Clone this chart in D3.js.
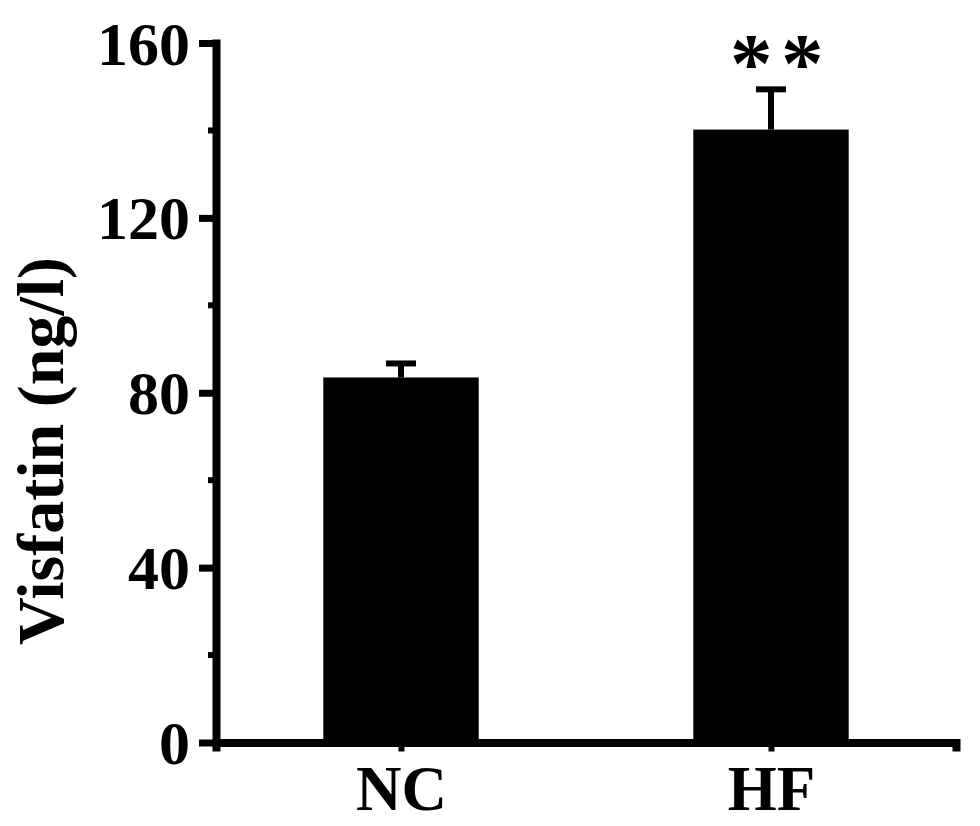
<!DOCTYPE html>
<html>
<head>
<meta charset="utf-8">
<script src="https://cdn.jsdelivr.net/npm/d3@7"></script>
<style>
  body { margin: 0; background: #fff; }
  text { font-family: "Liberation Serif", "Times New Roman", serif; font-weight: bold; fill: #000; }
</style>
</head>
<body>
<div id="chart"></div>
<script>
// data
var groups = ["NC", "HF"];
var means = [83.5, 140.2];
var errors = [3.2, 9.2];
var yTicks = [0, 40, 80, 120, 160];
var yMinorTicks = [20, 60, 100, 140];
var stars = ["", "**"];

var width = 980;
var height = 826;

var svg = d3.select("#chart").append("svg")
    .attr("width", width)
    .attr("height", height);

// scales
var x = d3.scalePoint()
    .domain(groups)
    .range([216, 956])
    .padding(0.5);

var y = d3.scaleLinear()
    .domain([0, 160])
    .range([742.5, 43]);

var barWidth = x.step() * 0.42;

// bars
svg.selectAll(".bar")
    .data(groups)
    .enter()
    .append("rect")
    .attr("class", "bar")
    .attr("x", d => x(d) - barWidth / 2)
    .attr("y", (d, i) => y(means[i]))
    .attr("width", barWidth)
    .attr("height", (d, i) => y(0) - y(means[i]))
    .attr("fill", "#000");

// error bars (upper only)
svg.selectAll(".stem")
    .data(groups)
    .enter()
    .append("line")
    .attr("x1", d => x(d))
    .attr("x2", d => x(d))
    .attr("y1", (d, i) => y(means[i]))
    .attr("y2", (d, i) => y(means[i] + errors[i]))
    .attr("stroke", "#000")
    .attr("stroke-width", 6);

svg.selectAll(".cap")
    .data(groups)
    .enter()
    .append("line")
    .attr("x1", d => x(d) - 15)
    .attr("x2", d => x(d) + 15)
    .attr("y1", (d, i) => y(means[i] + errors[i]))
    .attr("y2", (d, i) => y(means[i] + errors[i]))
    .attr("stroke", "#000")
    .attr("stroke-width", 6);

// significance stars
svg.selectAll(".star")
    .data(groups)
    .enter()
    .append("text")
    .attr("x", d => x(d) + 10)
    .attr("y", (d, i) => y(means[i] + errors[i]) + 3)
    .attr("text-anchor", "middle")
    .attr("font-size", "85px")
    .attr("letter-spacing", "8.5px")
    .text((d, i) => stars[i]);

// y axis
var leftAxis = d3.axisLeft(y)
    .tickValues(yTicks)
    .tickSize(17)
    .tickSizeOuter(0)
    .tickPadding(9);

var yAxis = svg.append("g")
    .attr("transform", "translate(216, 0)")
    .call(leftAxis);

yAxis.select(".domain")
    .attr("stroke-width", 8)
    .attr("stroke-linecap", "square");
yAxis.selectAll(".tick line").attr("stroke-width", 7);
yAxis.selectAll(".tick text")
    .attr("font-size", "62px")
    .attr("font-family", null)
    .attr("dy", "0.34em");

yAxis.selectAll(".minor")
    .data(yMinorTicks)
    .enter()
    .append("line")
    .attr("class", "minor")
    .attr("x1", -8)
    .attr("x2", 0)
    .attr("y1", d => y(d))
    .attr("y2", d => y(d))
    .attr("stroke", "#000")
    .attr("stroke-width", 6);

// x axis
var bottomAxis = d3.axisBottom(x)
    .tickSize(9)
    .tickSizeOuter(9)
    .tickPadding(14);

var xAxis = svg.append("g")
    .attr("transform", `translate(0, ${y(0)})`)
    .call(bottomAxis);

xAxis.select(".domain").attr("stroke-width", 8);
xAxis.selectAll(".tick line").attr("stroke-width", 6);
xAxis.selectAll(".tick text")
    .attr("font-size", "63px")
    .attr("font-family", null)
    .attr("dy", "0.71em");

// y title
svg.append("text")
    .attr("transform", "translate(63, 451) rotate(-90)")
    .attr("text-anchor", "middle")
    .attr("font-size", "66px")
    .text("Visfatin (ng/l)");
</script>
</body>
</html>
